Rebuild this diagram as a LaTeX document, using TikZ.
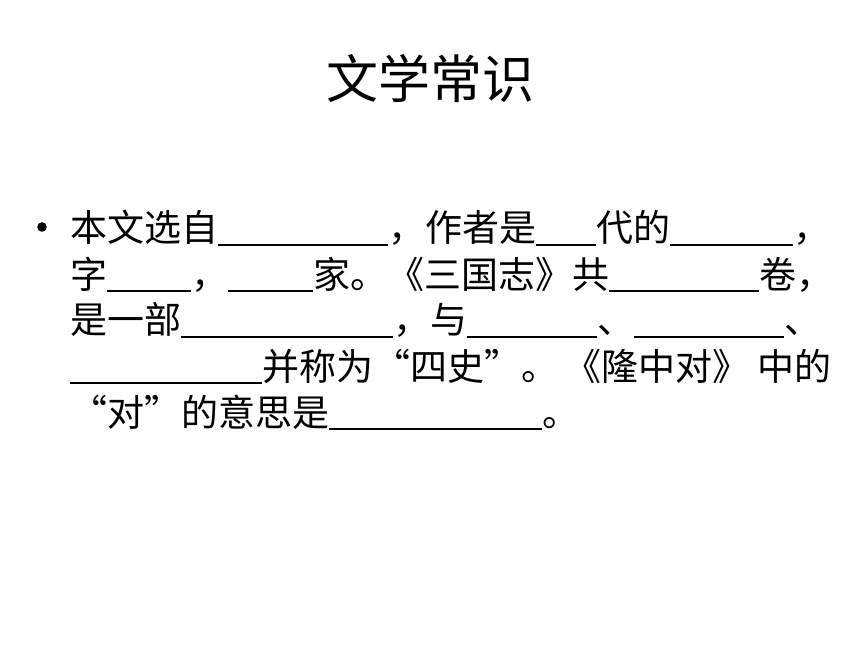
\documentclass[tikz,border=0pt]{standalone}
\usepackage{fontspec}
\newfontfamily\cjk{Noto Sans CJK SC}
\newlength\pxl
\setlength\pxl{0.75pt}
\newcommand\blank[1]{\rule[-0.1em]{#1\pxl}{1.5pt}}

\begin{document}
\begin{tikzpicture}[
    x=0.75pt, y=-0.75pt,
    title/.style={font=\cjk\fontsize{39}{39}\selectfont, anchor=base, inner sep=0pt},
    textline/.style={font=\cjk\fontsize{27.75}{27.75}\selectfont, anchor=base west, inner sep=0pt},
    dot/.style={circle, fill, inner sep=0pt, minimum size=7.2pt}
]
\useasboundingbox (0,0) rectangle (860,645);

\node[title] (title) at (430,99) {文学常识};

\node[dot] (bullet) at (42,227) {};
\node[textline] (l1) at (70,242) {本文选自\blank{170}，作者是\blank{60}代的\blank{123}，};
\node[textline] (l2) at (70,288) {字\blank{84}，\blank{85}家。《三国志》共\blank{150}卷，};
\node[textline] (l3) at (70,334) {是一部\blank{212}，与\blank{130}、\blank{150}、};
\node[textline] (l4) at (70,380) {\blank{192}并称为“四史”。\hspace{6\pxl}《隆中对》\hspace{8\pxl}中的};
\node[textline] (l5) at (70,426) {“对”的意思是\blank{213}。};
\end{tikzpicture}
\end{document}
